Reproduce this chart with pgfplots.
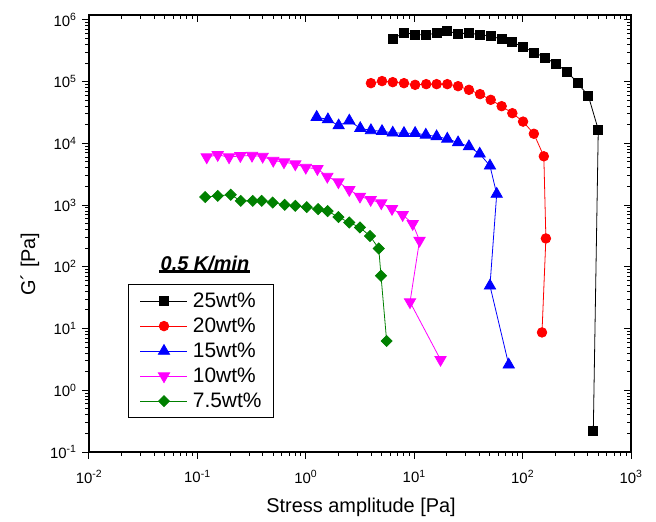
\documentclass[border=0pt]{standalone}
\usepackage{fontspec}
\setmainfont{Liberation Sans}
\usepackage{pgfplots}
\pgfplotsset{compat=1.18}
\definecolor{ogreen}{RGB}{0,128,0}
\definecolor{omagenta}{RGB}{255,0,255}

\pgfplotstableread{
x y
6.34 4.92e5
8.11 6.23e5
10.2 5.78e5
12.8 5.72e5
16.1 6.09e5
20.2 6.56e5
25.4 6.00e5
32.0 6.09e5
40.5 5.78e5
51.1 5.45e5
64.1 4.87e5
80.4 4.35e5
101 3.66e5
128 2.96e5
162 2.45e5
203 1.92e5
257 1.46e5
322 9.44e4
404 5.88e4
499 1.67e4
449 0.221
}\wtA

\pgfplotstableread{
x y
3.99 9.44e4
5.05 1.02e5
6.34 9.80e4
8.05 9.44e4
10.2 8.87e4
12.9 9.10e4
16.1 9.10e4
20.2 9.10e4
25.4 8.44e4
32.0 7.36e4
40.5 6.27e4
50.8 5.07e4
64.1 4.00e4
80.4 3.08e4
101 2.25e4
127 1.43e4
157 6.17e3
164 288
151 8.65
}\wtB

\pgfplotstableread{
x y
1.26 2.66e4
1.60 2.43e4
2.01 1.94e4
2.52 2.32e4
3.18 1.75e4
3.99 1.62e4
5.05 1.57e4
6.34 1.48e4
8.05 1.46e4
10.2 1.46e4
12.8 1.37e4
16.1 1.29e4
20.2 1.18e4
25.4 1.03e4
32.0 8.89e3
40.2 6.76e3
50.0 4.33e3
57.7 1.51e3
50.0 49.3
74.5 2.59
}\wtC

\pgfplotstableread{
x y
0.122 5.98e3
0.154 6.52e3
0.196 5.98e3
0.249 6.28e3
0.319 6.35e3
0.400 6.12e3
0.501 5.27e3
0.629 4.97e3
0.800 4.61e3
1.00 4.06e3
1.28 3.87e3
1.58 2.90e3
2.00 2.36e3
2.52 1.77e3
3.16 1.38e3
3.97 1.22e3
4.97 1.08e3
6.24 871
7.83 696
9.69 498
11.2 267
9.15 26.9
17.5 3.13
}\wtD

\pgfplotstableread{
x y
0.118 1.35e3
0.154 1.41e3
0.203 1.47e3
0.251 1.17e3
0.324 1.17e3
0.392 1.17e3
0.495 1.10e3
0.639 1.01e3
0.800 973
1.02 927
1.30 861
1.59 800
2.00 639
2.52 522
3.16 434
3.91 315
4.71 198
4.94 71.6
5.57 6.28
}\wtE

\begin{document}
\begin{tikzpicture}
% top and right: ticks inside, no labels
\begin{axis}[
  scale only axis, width=542bp, height=437bp,
  xmode=log, ymode=log,
  xmin=0.01, xmax=1000, ymin=0.1, ymax=1.2e6,
  axis line style={line width=1.3pt},
  xtick={0.01,0.1,1,10,100,1000},
  ytick={0.1,1,10,100,1000,1e4,1e5,1e6},
  minor xtick={0.02,0.03,0.04,0.05,0.06,0.07,0.08,0.09,
    0.2,0.3,0.4,0.5,0.6,0.7,0.8,0.9,2,3,4,5,6,7,8,9,
    20,30,40,50,60,70,80,90,200,300,400,500,600,700,800,900},
  minor ytick={0.2,0.3,0.4,0.5,0.6,0.7,0.8,0.9,2,3,4,5,6,7,8,9,
    20,30,40,50,60,70,80,90,200,300,400,500,600,700,800,900,
    2000,3000,4000,5000,6000,7000,8000,9000,
    2e4,3e4,4e4,5e4,6e4,7e4,8e4,9e4,
    2e5,3e5,4e5,5e5,6e5,7e5,8e5,9e5},
  major tick length=7bp, minor tick length=4bp,
  every tick/.style={black, line width=1pt},
  tick align=inside, xtick pos=right, ytick pos=right,
  xticklabels={}, yticklabels={}]
\end{axis}

\begin{axis}[
  scale only axis, width=542bp, height=437bp,
  xmode=log, ymode=log,
  xmin=0.01, xmax=1000, ymin=0.1, ymax=1.2e6,
  axis line style={line width=1.3pt},
  xtick={0.01,0.1,1,10,100,1000},
  ytick={0.1,1,10,100,1000,1e4,1e5,1e6},
  minor xtick={0.02,0.03,0.04,0.05,0.06,0.07,0.08,0.09,
    0.2,0.3,0.4,0.5,0.6,0.7,0.8,0.9,2,3,4,5,6,7,8,9,
    20,30,40,50,60,70,80,90,200,300,400,500,600,700,800,900},
  minor ytick={0.2,0.3,0.4,0.5,0.6,0.7,0.8,0.9,2,3,4,5,6,7,8,9,
    20,30,40,50,60,70,80,90,200,300,400,500,600,700,800,900,
    2000,3000,4000,5000,6000,7000,8000,9000,
    2e4,3e4,4e4,5e4,6e4,7e4,8e4,9e4,
    2e5,3e5,4e5,5e5,6e5,7e5,8e5,9e5},
  major tick length=7bp, minor tick length=4bp,
  every tick/.style={black, line width=1pt},
  tick align=outside, xtick pos=left, ytick pos=left,
  tick label style={font=\fontsize{15}{18}\selectfont},
  xticklabel style={yshift=-8bp},
  yticklabel style={xshift=-2bp},
  clip=false,
  xticklabels={10\textsuperscript{-2},10\textsuperscript{-1},10\textsuperscript{0},
    10\textsuperscript{1},10\textsuperscript{2},10\textsuperscript{3}},
  yticklabels={10\textsuperscript{-1},10\textsuperscript{0},10\textsuperscript{1},
    10\textsuperscript{2},10\textsuperscript{3},10\textsuperscript{4},
    10\textsuperscript{5},10\textsuperscript{6}},
  legend style={at={(0.0714,0.384)}, anchor=north west, draw=black,
    line width=0.8pt, font=\fontsize{21}{25}\selectfont,
    inner xsep=12bp, inner ysep=6bp, row sep=4bp, column sep=5bp,
    nodes={inner sep=0pt, text height=17bp, text depth=4bp},
    cells={anchor=west}},
  legend image code/.code={\draw[mark repeat=2,mark phase=2,#1]
    plot coordinates {(0bp,0bp) (23.5bp,0bp) (47bp,0bp)};},
]
\coordinate (sw) at (rel axis cs:0,0);
\coordinate (ne) at (rel axis cs:1,1);

\addplot[black, line width=0.8pt, mark=square*, mark size=4.5bp,
  mark options={solid}] table[x=x,y=y] {\wtA};
\addlegendentry{25wt\%}
\addplot[red, line width=0.8pt, mark=*, mark size=4.8bp,
  mark options={solid}] table[x=x,y=y] {\wtB};
\addlegendentry{20wt\%}
\addplot[blue, line width=0.8pt, mark=triangle*, mark size=6.5bp,
  mark options={solid}] table[x=x,y=y] {\wtC};
\addlegendentry{15wt\%}
\addplot[omagenta, line width=0.8pt, mark=triangle*, mark size=6.5bp,
  mark options={solid, rotate=180}] table[x=x,y=y] {\wtD};
\addlegendentry{10wt\%}
\addplot[ogreen, line width=0.8pt, mark=square*, mark size=3.9bp,
  mark options={solid, rotate=45}] table[x=x,y=y] {\wtE};
\addlegendentry{7.5wt\%}

\node[font=\fontsize{20}{24}\selectfont\bfseries\itshape, inner sep=1bp]
  (klab) at (axis description cs:0.214,0.4325) {0.5 K/min};
\draw[line width=2.5bp] (klab.south west) -- (klab.south east);

\node[font=\fontsize{20}{24}\selectfont, rotate=90, anchor=center]
  at (axis description cs:-0.109,0.43) {G´ [Pa]};
\node[font=\fontsize{20}{24}\selectfont, anchor=center]
  at (axis description cs:0.502,-0.127) {Stress amplitude [Pa]};
\end{axis}
\pgfresetboundingbox
\path ([shift={(-89bp,-70bp)}]sw) rectangle ([shift={(25bp,15bp)}]ne);
\end{tikzpicture}
\end{document}
